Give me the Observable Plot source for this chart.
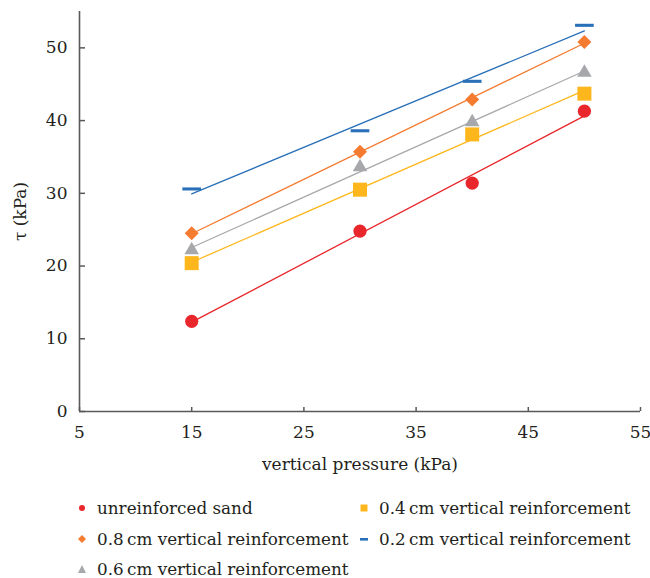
<!DOCTYPE html>
<html>
<head>
<meta charset="utf-8">
<script src="https://cdn.jsdelivr.net/npm/d3@7"></script>
<script src="https://cdn.jsdelivr.net/npm/@observablehq/plot@0.6"></script>
<style>
  html, body { margin: 0; padding: 0; background: #fff; overflow: hidden; }
  #wrap { position: relative; width: 650px; height: 578px; font-family: "DejaVu Serif", serif; color: #231f20; }
  .lg { position: absolute; font-size: 16.8px; line-height: 16px; height: 16px; white-space: nowrap; display: flex; align-items: center; }
  .lg svg { margin-right: 9px; flex: none; }
</style>
</head>
<body>
<div id="wrap"></div>
<script>
// ---- data ----
const pressures = [15, 30, 40, 50];
const unreinforced = [12.4, 24.8, 31.4, 41.3];
const r04 = [20.4, 30.5, 38.1, 43.7];
const r06 = [22.2, 33.6, 39.8, 46.6];
const r08 = [24.5, 35.7, 42.9, 50.8];
const r02 = [30.6, 38.6, 45.4, 53.1];
const xTicks = [5, 15, 25, 35, 45, 55];
const yTicks = [0, 10, 20, 30, 40, 50];
const seriesNames = [
  "unreinforced sand",
  "0.4\u2009cm vertical reinforcement",
  "0.6\u2009cm vertical reinforcement",
  "0.8\u2009cm vertical reinforcement",
  "0.2\u2009cm vertical reinforcement"
];

// ---- styling ----
const FONT = '"DejaVu Serif", serif';
const dash = {
  draw(ctx, size) {
    const s = Math.sqrt(size);
    ctx.rect(-s * 0.85, -s * 0.14, s * 1.7, s * 0.28);
  }
};
const styles = [
  {values: unreinforced, color: "#e8262b", symbol: "circle", r: 6.6},
  {values: r04, color: "#fdb71c", symbol: "square", r: 7.9},
  {values: r06, color: "#a7a8ab", symbol: "triangle", r: 5.4},
  {values: r08, color: "#f47b2f", symbol: "diamond2", r: 6.3},
  {values: r02, color: "#2a70b8", symbol: dash, r: 6.2}
];

const rows = styles.map((s, i) => pressures.map((p, j) => ({series: seriesNames[i], x: p, y: s.values[j]})));

const marks = [];
styles.forEach((s, i) => {
  marks.push(Plot.linearRegressionY(rows[i], {x: "x", y: "y", stroke: s.color, strokeWidth: 1.3, ci: 0}));
});
styles.forEach((s, i) => {
  marks.push(Plot.dot(rows[i], {x: "x", y: "y", fill: s.color, stroke: "none", symbol: () => s.symbol, r: s.r}));
});

const chart = Plot.plot({
  width: 650,
  height: 482,
  marginLeft: 79,
  marginRight: 10,
  marginTop: 11,
  marginBottom: 71,
  style: {fontFamily: FONT, fontSize: "17px", color: "#231f20", background: "#fff", overflow: "visible"},
  x: {domain: [5, 55]},
  y: {domain: [0, 55]},
  symbol: {type: "identity"},
  marks: [
    Plot.axisX({ticks: xTicks, tickSize: -4, tickPadding: 18, stroke: "#595959", strokeWidth: 1.5,
      label: "vertical pressure (kPa)", labelAnchor: "center", labelArrow: "none", labelOffset: 58, fontSize: 17, fontFamily: FONT}),
    Plot.axisY({ticks: yTicks, tickSize: -6, tickPadding: 18, stroke: "#595959", strokeWidth: 1.5,
      label: "τ (kPa)", labelAnchor: "center", labelArrow: "none", labelOffset: 66, fontSize: 17, fontFamily: FONT}),
    Plot.ruleX([5], {stroke: "#595959", strokeWidth: 1.6}),
    Plot.ruleY([0], {stroke: "#595959", strokeWidth: 1.6}),
    ...marks
  ]
});
const wrap = document.getElementById("wrap");
wrap.appendChild(chart);

// ---- legend below the chart ----
const legendPos = [
  {i: 0, left: 76, top: 500},
  {i: 1, left: 358, top: 500},
  {i: 3, left: 76, top: 531},
  {i: 4, left: 358, top: 531},
  {i: 2, left: 76, top: 561}
];
const legendSym = [
  '<circle cx="6" cy="6" r="3" fill="#e8262b"/>',
  '<rect x="2.5" y="2.5" width="7" height="7" fill="#fdb71c"/>',
  '<path d="M6,2 L10,10 L2,10 Z" fill="#a7a8ab"/>',
  '<path d="M6,2 L10,6 L6,10 L2,6 Z" fill="#f47b2f"/>',
  '<rect x="2" y="5" width="8" height="2.6" fill="#2a70b8"/>'
];
legendPos.forEach(p => {
  const d = document.createElement("div");
  d.className = "lg";
  d.style.left = p.left + "px";
  d.style.top = p.top + "px";
  d.innerHTML = `<svg width="12" height="12">${legendSym[p.i]}</svg><span>${seriesNames[p.i]}</span>`;
  wrap.appendChild(d);
});
</script>
</body>
</html>
